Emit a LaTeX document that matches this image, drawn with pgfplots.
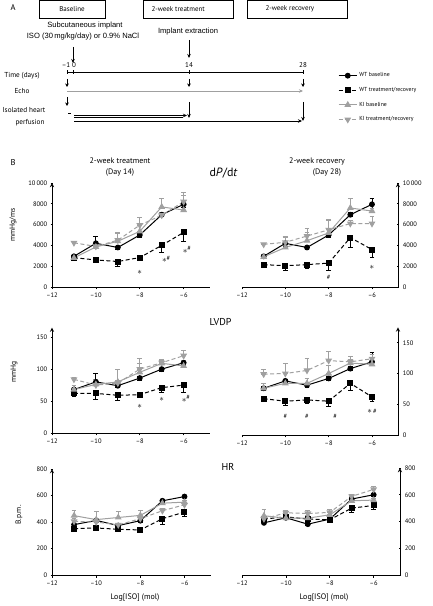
\documentclass[border=0pt]{standalone}
\usepackage{fontspec}
\setmainfont{PT Sans}
\newfontfamily\arialf{Liberation Sans}
\usepackage{pgfplots}
\pgfplotsset{compat=1.18}
\usetikzlibrary{arrows.meta}
\definecolor{kgray}{RGB}{160,160,160}
\newcommand{\fs}[1]{\fontsize{#1}{#1}\selectfont}
\newcommand{\sh}{$\ast$\raisebox{2.5pt}{\fs{6.5}\#}}
\tikzset{
 ann/.style={font=\fs{9}, text=black, inner sep=0pt},
 annh/.style={font=\fs{6.5}, text=black, inner sep=0pt},
}
\pgfplotsset{
 wtb/.style={black, line width=1pt, mark=*, mark size=2.4pt, mark options={solid}},
 wtt/.style={black, dash pattern=on 4pt off 2.5pt, line width=1pt, mark=square*, mark size=2.5pt, mark options={solid}},
 kib/.style={kgray, line width=1pt, mark=triangle*, mark size=3pt, mark options={solid}},
 kit/.style={kgray, dash pattern=on 4pt off 2.5pt, line width=1pt, mark=triangle*, mark size=3pt, mark options={solid, rotate=180}},
 errs/.style={error bars/.cd, y dir=both, y explicit, error bar style={solid, line width=0.8pt}, error mark options={rotate=90, mark size=2.4pt, line width=0.8pt, solid}},
 myaxbase/.style={scale only axis, clip=false, enlargelimits=false, xmin=-12, xmax=-4.8,
   xtick={-12,-10,-8,-6}, xticklabels={–12,–10,–8,–6}, scaled y ticks=false, scaled x ticks=false,
   axis x line=bottom, axis line style={-, line width=0.9pt},
   tick align=outside, major tick length=2.5pt, tick style={black, line width=0.7pt},
   tick label style={font=\fs{6.5}}},
 myleft/.style={myaxbase, axis y line=left},
 myright/.style={myaxbase, axis y line=right},
}
\begin{document}
\begin{tikzpicture}
\path (0pt,0pt) rectangle (432pt,606pt);
% ---------------- Panel A schematic ----------------
\begin{scope}[x=1pt,y=1pt]
\node[font=\fs{8.5}] at (13,599) {A};
\draw[line width=0.6pt] (39,605.5) rectangle (105,588);
\node[font=\fs{7}] at (72,597) {Baseline};
\draw[line width=0.6pt] (143,605.5) rectangle (233,588);
\node[font=\fs{7}, anchor=west] at (148,597) {2-week treatment};
\draw[line width=0.6pt] (247,605.5) rectangle (347,588);
\node[font=\fs{7}, anchor=west] at (262,597) {2-week recovery};
\node[font=\arialf\fs{7.6}] at (85,580) {Subcutaneous implant};
\node[font=\arialf\fs{7.6}] at (83,569) {ISO (30\,mg/kg/day) or 0.9\% NaCl};
\node[font=\arialf\fs{7.6}] at (188,574) {Implant extraction};
\draw[line width=0.7pt, -{Stealth[length=4pt,width=3.5pt]}] (73,559) -- (73,543);
\draw[line width=0.7pt, -{Stealth[length=4pt,width=3.5pt]}] (189,566) -- (189,548);
\node[font=\fs{7}] at (66,541) {–1};
\node[font=\fs{7}] at (74,541) {0};
\node[font=\fs{7}] at (189,541) {14};
\node[font=\fs{7}] at (303,541) {28};
\draw[line width=0.7pt] (67,534) -- (303,534);
\foreach \xx in {67,73,189,303} \draw[line width=0.6pt] (\xx,532) -- (\xx,536);
\node[font=\fs{7.2}] at (22,530) {Time (days)};
\foreach \xx in {67,189,303} \draw[line width=0.7pt, -{Stealth[length=3.5pt,width=3.5pt]}] (\xx,527) -- (\xx,519);
\draw[kgray, line width=0.8pt, -{Stealth[length=4pt,width=3.5pt]}] (67,515) -- (303,515);
\node[font=\fs{7.2}] at (22,515) {Echo};
\draw[line width=0.7pt, -{Stealth[length=3.5pt,width=3.5pt]}] (67,509) -- (67,500);
\draw[line width=0.7pt] (68,493) -- (71,493);
\draw[line width=0.7pt, -{Stealth[length=4pt,width=3.5pt]}] (189,504) -- (189,488);
\draw[line width=0.7pt, -{Stealth[length=4pt,width=3.5pt]}] (303,504) -- (303,485);
\draw[line width=0.7pt, -{Stealth[length=4pt,width=3.5pt]}] (74,490.5) -- (187,490.5);
\draw[line width=0.5pt] (74,489) -- (183,489);
\draw[line width=0.7pt, -{Stealth[length=4pt,width=3.5pt]}] (74,485) -- (302,485);
\node[font=\fs{7.2}] at (24,496) {Isolated heart};
\node[font=\fs{7.2}] at (30,483) {perfusion};
% ---------------- Panel B titles ----------------
\node[font=\fs{8.5}] at (13,443) {B};
\node[font=\fs{8}] at (120,445) {2-week treatment};
\node[font=\fs{8}] at (120,433) {(Day 14)};
\node[font=\fs{8}] at (317,445) {2-week recovery};
\node[font=\fs{8}] at (327,433) {(Day 28)};
\node[font=\fs{12}, anchor=west] at (206,433) {d\textit{P}/d\textit{t}};
\node[font=\fs{10}, anchor=west] at (206,284) {LVDP};
\node[font=\fs{10}, anchor=west] at (218,139) {HR};
\node[font=\fs{7.5}, rotate=90] at (13,381) {mmHg/ms};
\node[font=\fs{7.5}, rotate=90] at (14,234) {mmHg};
\node[font=\fs{7.5}, rotate=90] at (19,91) {B.p.m.};
\node[font=\fs{8}] at (135,8) {Log[ISO] (mol)};
\node[font=\fs{8}] at (324,8) {Log[ISO] (mol)};
\end{scope}
% ---------------- dP/dt Day 14 ----------------
\begin{axis}[myleft, anchor=south west, at={(52pt,319pt)}, width=158pt, height=104pt, ymin=0, ymax=10000,
  ytick={0,2000,4000,6000,8000,10000}, yticklabels={0,2000,4000,6000,8000,10\,000},
  legend style={at={(axis description cs:1.81,2.08)}, anchor=north west, draw=none, fill=none,
    font=\fs{5.8}, row sep=5pt, inner sep=0pt, nodes={text=black}, legend image code/.code={
      \draw[mark repeat=2,mark phase=2] plot coordinates {(0cm,0cm) (0.32cm,0cm) (0.64cm,0cm)};}},
  legend cell align=left]
\addplot[wtb, errs] coordinates {(-11,2950) +- (0,150) (-10,4200) += (0,700) -= (0,300) (-9,3800) +- (0,150) (-8,5000) +- (0,200) (-7,6950) +- (0,200) (-6,7950) +- (0,300)};
\addlegendentry{WT baseline}
\addplot[wtt, errs] coordinates {(-11,2820) += (0,100) -= (0,200) (-10,2600) += (0,100) -= (0,150) (-9,2450) += (0,100) -= (0,450) (-8,2830) += (0,100) -= (0,150) (-7,4000) += (0,100) -= (0,700) (-6,5250) += (0,100) -= (0,900)};
\addlegendentry{WT treatment/recovery}
\addplot[kib, errs] coordinates {(-11,2800) += (0,300) -= (0,0) (-10,3850) += (0,300) -= (0,0) (-9,4400) += (0,850) -= (0,0) (-8,5350) += (0,1300) -= (0,0) (-7,7700) += (0,800) -= (0,0) (-6,7400) += (0,1650) -= (0,0)};
\addlegendentry{KI baseline}
\addplot[kit, errs] coordinates {(-11,4250) += (0,100) -= (0,0) (-10,3900) += (0,200) -= (0,0) (-9,4500) += (0,700) -= (0,0) (-8,5950) += (0,700) -= (0,0) (-7,6900) += (0,300) -= (0,0) (-6,8200) += (0,600) -= (0,0)};
\addlegendentry{KI treatment/recovery}
\node[ann] at (axis cs:-8,1450) {$\ast$};
\node[ann] at (axis cs:-6.8,2650) {\sh};
\node[ann] at (axis cs:-5.85,3550) {\sh};
\end{axis}
% ---------------- dP/dt Day 28 ----------------
\begin{axis}[myright, anchor=south west, at={(242pt,319pt)}, width=156pt, height=104pt, ymin=0, ymax=10000,
  ytick={0,2000,4000,6000,8000,10000}, yticklabels={0,2000,4000,6000,8000,10\,000}]
\addplot[wtb, errs] coordinates {(-11,2950) +- (0,150) (-10,4200) += (0,700) -= (0,300) (-9,3800) +- (0,150) (-8,5000) +- (0,200) (-7,6950) +- (0,200) (-6,7950) +- (0,600)};
\addplot[wtt, errs] coordinates {(-11,2150) += (0,100) -= (0,100) (-10,2050) += (0,100) -= (0,450) (-9,2150) += (0,100) -= (0,400) (-8,2300) += (0,100) -= (0,750) (-7,4750) += (0,100) -= (0,900) (-6,3600) += (0,100) -= (0,800)};
\addplot[kib, errs] coordinates {(-11,2900) += (0,200) -= (0,0) (-10,3800) += (0,1000) -= (0,0) (-9,4450) += (0,800) -= (0,0) (-8,5200) += (0,1300) -= (0,0) (-7,7600) += (0,900) -= (0,0) (-6,7300) += (0,300) -= (0,0)};
\addplot[kit, errs] coordinates {(-11,4100) += (0,100) -= (0,0) (-10,4300) += (0,600) -= (0,0) (-9,4900) += (0,700) -= (0,0) (-8,5500) += (0,900) -= (0,0) (-7,6100) += (0,300) -= (0,0) (-6,6100) += (0,700) -= (0,0)};
\node[annh] at (axis cs:-8,900) {\#};
\node[ann] at (axis cs:-6,1850) {$\ast$};
\end{axis}
% ---------------- LVDP Day 14 ----------------
\begin{axis}[myleft, anchor=south west, at={(52pt,173pt)}, width=158pt, height=105.4pt, ymin=0, ymax=165,
  ytick={0,50,100,150}, yticklabels={0,50,100,150}]
\addplot[wtb, errs] coordinates {(-11,68) +- (0,3) (-10,80) += (0,14) -= (0,3) (-9,74) +- (0,3) (-8,86) +- (0,3) (-7,100) += (0,13) -= (0,3) (-6,110) +- (0,4)};
\addplot[wtt, errs] coordinates {(-11,62) += (0,2) -= (0,5) (-10,62) += (0,2) -= (0,10) (-9,59) += (0,2) -= (0,8) (-8,60) += (0,2) -= (0,3) (-7,71) += (0,2) -= (0,8) (-6,75) += (0,2) -= (0,12)};
\addplot[kib, errs] coordinates {(-11,68) += (0,6) -= (0,0) (-10,76) += (0,8) -= (0,0) (-9,80) += (0,20) -= (0,0) (-8,95) += (0,14) -= (0,0) (-7,109) += (0,5) -= (0,0) (-6,105) += (0,8) -= (0,0)};
\addplot[kit, errs] coordinates {(-11,84) += (0,3) -= (0,0) (-10,75) += (0,5) -= (0,0) (-9,78) += (0,5) -= (0,0) (-8,100) += (0,17) -= (0,0) (-7,110) += (0,5) -= (0,0) (-6,121) += (0,8) -= (0,0)};
\node[ann] at (axis cs:-8,41) {$\ast$};
\node[ann] at (axis cs:-7,52) {$\ast$};
\node[ann] at (axis cs:-5.9,53) {\sh};
\end{axis}
% ---------------- LVDP Day 28 ----------------
\begin{axis}[myright, anchor=south west, at={(242pt,171pt)}, width=156pt, height=107.6pt, ymin=0, ymax=175,
  ytick={0,50,100,150}, yticklabels={0,50,100,150}]
\addplot[wtb, errs] coordinates {(-11,76) +- (0,3) (-10,88) +- (0,3) (-9,81) +- (0,3) (-8,92) +- (0,3) (-7,108) +- (0,3) (-6,119) += (0,15) -= (0,3)};
\addplot[wtt, errs] coordinates {(-11,59) += (0,2) -= (0,5) (-10,55) += (0,2) -= (0,7) (-9,57) += (0,2) -= (0,6) (-8,55) += (0,2) -= (0,9) (-7,84) += (0,2) -= (0,12) (-6,62) += (0,2) -= (0,7)};
\addplot[kib, errs] coordinates {(-11,76) += (0,8) -= (0,0) (-10,84) += (0,5) -= (0,0) (-9,84) += (0,8) -= (0,0) (-8,100) += (0,14) -= (0,0) (-7,117) += (0,6) -= (0,0) (-6,115) += (0,6) -= (0,0)};
\addplot[kit, errs] coordinates {(-11,99) += (0,7) -= (0,0) (-10,100) += (0,16) -= (0,0) (-9,105) += (0,20) -= (0,0) (-8,121) += (0,15) -= (0,0) (-7,119) += (0,9) -= (0,0) (-6,124) += (0,7) -= (0,0)};
\node[annh] at (axis cs:-10,31) {\#};
\node[annh] at (axis cs:-9,31) {\#};
\node[annh] at (axis cs:-7.7,31) {\#};
\node[ann] at (axis cs:-6,38) {$\ast$\fs{6.5}\,\#};
\end{axis}
% ---------------- HR Day 14 ----------------
\begin{axis}[myleft, anchor=south west, at={(52pt,31pt)}, width=159pt, height=106pt, ymin=0, ymax=800,
  ytick={0,200,400,600,800}, yticklabels={0,200,400,600,800}]
\addplot[wtb, errs] coordinates {(-11,380) +- (0,10) (-10,412) +- (0,10) (-9,373) +- (0,10) (-8,410) +- (0,10) (-7,560) +- (0,10) (-6,592) +- (0,10)};
\addplot[wtt, errs] coordinates {(-11,350) += (0,5) -= (0,20) (-10,355) += (0,5) -= (0,15) (-9,345) += (0,5) -= (0,10) (-8,340) += (0,5) -= (0,8) (-7,425) += (0,5) -= (0,40) (-6,475) += (0,5) -= (0,30)};
\addplot[kib, errs] coordinates {(-11,448) += (0,40) -= (0,0) (-10,418) += (0,60) -= (0,0) (-9,434) += (0,45) -= (0,0) (-8,450) += (0,40) -= (0,0) (-7,542) += (0,10) -= (0,0) (-6,550) += (0,15) -= (0,0)};
\addplot[kit, errs] coordinates {(-11,405) += (0,20) -= (0,0) (-10,400) += (0,10) -= (0,0) (-9,378) += (0,15) -= (0,0) (-8,425) += (0,10) -= (0,0) (-7,485) += (0,15) -= (0,0) (-6,530) += (0,10) -= (0,0)};
\end{axis}
% ---------------- HR Day 28 ----------------
\begin{axis}[myright, anchor=south west, at={(242pt,31pt)}, width=158pt, height=107pt, ymin=0, ymax=800,
  ytick={0,200,400,600,800}, yticklabels={0,200,400,600,800}]
\addplot[wtb, errs] coordinates {(-11,390) +- (0,10) (-10,428) +- (0,10) (-9,380) +- (0,10) (-8,418) +- (0,10) (-7,568) +- (0,10) (-6,600) +- (0,10)};
\addplot[wtt, errs] coordinates {(-11,418) += (0,5) -= (0,15) (-10,435) += (0,5) -= (0,15) (-9,418) += (0,5) -= (0,20) (-8,413) += (0,5) -= (0,15) (-7,500) += (0,5) -= (0,35) (-6,520) += (0,5) -= (0,30)};
\addplot[kib, errs] coordinates {(-11,443) += (0,45) -= (0,0) (-10,425) += (0,20) -= (0,0) (-9,425) += (0,20) -= (0,0) (-8,450) += (0,25) -= (0,0) (-7,555) += (0,10) -= (0,0) (-6,560) += (0,15) -= (0,0)};
\addplot[kit, errs] coordinates {(-11,420) += (0,10) -= (0,0) (-10,465) += (0,15) -= (0,0) (-9,460) += (0,20) -= (0,0) (-8,468) += (0,20) -= (0,0) (-7,588) += (0,15) -= (0,0) (-6,640) += (0,20) -= (0,0)};
\end{axis}
\pgfresetboundingbox
\path[use as bounding box] (0pt,0pt) rectangle (432pt,606pt);
\end{tikzpicture}
\end{document}
